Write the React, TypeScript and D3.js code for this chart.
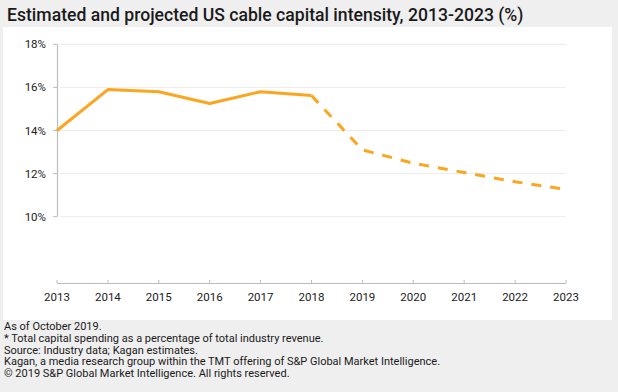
import React from "react";
import * as d3 from "d3";

const years = [2013, 2014, 2015, 2016, 2017, 2018, 2019, 2020, 2021, 2022, 2023];
const actualValues = [14.0, 15.9, 15.8, 15.25, 15.8, 15.62];
const projectedValues = [15.62, 13.1, 12.48, 12.05, 11.62, 11.27];
const yTicks = [10, 12, 14, 16, 18];
const footnotes = [
  "As of October 2019.",
  "* Total capital spending as a percentage of total industry revenue.",
  "Source: Industry data; Kagan estimates.",
  "Kagan, a media research group within the TMT offering of S&P Global Market Intelligence.",
  "\u00A9 2019 S&P Global Market Intelligence. All rights reserved.",
];
const title = "Estimated and projected US cable capital intensity, 2013-2023 (%)";

const W = 618;
const H = 392;
const FONT = "Roboto, 'Liberation Sans', Arial, sans-serif";

export default function App() {
  const x = d3.scaleLinear().domain([2013, 2023]).range([57, 566]);
  const y = d3.scaleLinear().domain([10, 18]).range([216.7, 44.3]);
  const axisY = 283;
  const color = "#fca51f";

  const line = d3
    .line<[number, number]>()
    .x((d) => x(d[0]))
    .y((d) => y(d[1]));

  const actual: [number, number][] = actualValues.map((v, i) => [years[i], v]);
  const projected: [number, number][] = projectedValues.map((v, i) => [years[i + 5], v]);

  return (
    <div style={{ position: "absolute", left: 0, top: 0, width: W, height: H }}>
      <svg width={W} height={H} style={{ display: "block" }} fontFamily={FONT}>
        <rect x={0} y={0} width={W} height={H} fill="#efefef" />
        <text x={7} y={21} fontSize={17.6} fontWeight={500} fill="#1a1a1a">
          {title}
        </text>
        <rect x={3} y={27} width={609} height={293} fill="#ffffff" />
        {yTicks.map((t) => (
          <line key={"g" + t} x1={60} x2={566} y1={y(t)} y2={y(t)} stroke="#ececec" strokeWidth={1} />
        ))}
        <line x1={57.5} x2={57.5} y1={y(18)} y2={y(10)} stroke="#bdbdbd" strokeWidth={1.2} />
        {yTicks.map((t) => (
          <g key={"y" + t}>
            <line x1={53} x2={57} y1={y(t)} y2={y(t)} stroke="#bdbdbd" strokeWidth={1} />
            <text x={46} y={y(t)} dy="0.35em" textAnchor="end" fontSize={11.5} fill="#222">
              {t}%
            </text>
          </g>
        ))}
        <line x1={x(2013)} x2={x(2023)} y1={axisY + 0.5} y2={axisY + 0.5} stroke="#bdbdbd" strokeWidth={1.2} />
        {years.map((yr) => (
          <g key={"x" + yr}>
            <line x1={x(yr)} x2={x(yr)} y1={axisY - 3} y2={axisY} stroke="#bdbdbd" strokeWidth={1} />
            <text x={x(yr)} y={297} dy="0.35em" textAnchor="middle" fontSize={11.5} fill="#222">
              {yr}
            </text>
          </g>
        ))}
        <path d={line(actual) || ""} fill="none" stroke={color} strokeWidth={3} strokeLinejoin="round" />
        <path
          d={line(projected) || ""}
          fill="none"
          stroke={color}
          strokeWidth={3}
          strokeDasharray="10,9"
          strokeLinejoin="round"
        />
        {footnotes.map((f, i) => (
          <text key={"f" + i} x={4} y={330 + i * 11.8} fontSize={11} fill="#1a1a1a">
            {f}
          </text>
        ))}
      </svg>
    </div>
  );
}
